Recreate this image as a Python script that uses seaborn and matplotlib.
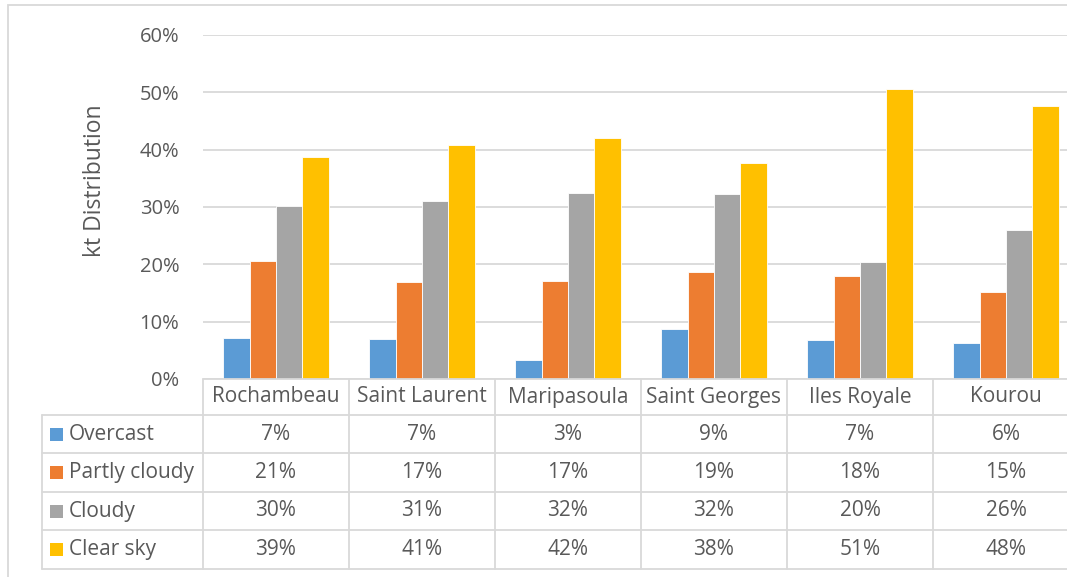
import pandas as pd
import matplotlib
matplotlib.use('Agg')
import matplotlib.pyplot as plt
import matplotlib.transforms as mtransforms
from matplotlib.patches import Rectangle
from matplotlib.ticker import PercentFormatter
import seaborn as sns

STATIONS      = ['Rochambeau', 'Saint Laurent', 'Maripasoula', 'Saint Georges', 'Iles Royale', 'Kourou']
SKY_TYPES     = ['Overcast', 'Partly cloudy', 'Cloudy', 'Clear sky']
OVERCAST      = [7.1, 6.9, 3.4, 8.7, 6.8, 6.3]
PARTLY_CLOUDY = [20.6, 17.0, 17.1, 18.7, 17.9, 15.2]
CLOUDY        = [30.2, 31.0, 32.4, 32.3, 20.4, 26.0]
CLEAR_SKY     = [38.7, 40.9, 42.1, 37.7, 50.6, 47.6]
COLORS        = ['#5B9BD5', '#ED7D31', '#A5A5A5', '#FFC000']
Y_TICKS       = [0, 10, 20, 30, 40, 50, 60]

TEXT_C = '#595959'
GRID_C = '#d9d9d9'
W, H = 1067, 577


def fx(px):
    return px / W


def fy(py):
    return 1 - py / H


series = [OVERCAST, PARTLY_CLOUDY, CLOUDY, CLEAR_SKY]
records = []
for sky, vals in zip(SKY_TYPES, series):
    for st, v in zip(STATIONS, vals):
        records.append({'station': st, 'sky': sky, 'value': v})
df = pd.DataFrame(records)

sns.set_style('white')
plt.rcParams['font.family'] = ['Open Sans', 'DejaVu Sans']

fig = plt.figure(figsize=(W / 100, H / 100), dpi=100)
ax = fig.add_axes([fx(203), fy(379), 876 / W, 344 / H])

sns.barplot(data=df, x='station', y='value', hue='sky', order=STATIONS,
            hue_order=SKY_TYPES, palette=COLORS, saturation=1, width=0.726, gap=0,
            edgecolor='white', linewidth=0.6, legend=False, ax=ax, zorder=3)

ax.set_xlim(-0.5, len(STATIONS) - 0.5)
ax.set_ylim(0, 60)
ax.set_yticks(Y_TICKS)
ax.yaxis.set_major_formatter(PercentFormatter(100, decimals=0))
ax.set_xticks([])
ax.set_xlabel('')
ax.set_ylabel('')
ax.grid(axis='y', color=GRID_C, linewidth=1.3, zorder=0)
for s in ax.spines.values():
    s.set_visible(False)
ax.tick_params(axis='y', length=0, labelsize=14.5, labelcolor=TEXT_C, pad=17)

fig.text(fx(95), fy(181), 'kt Distribution', rotation=90, ha='center', va='center',
         fontsize=16.5, color=TEXT_C)

# data table under the axis
trans = mtransforms.blended_transform_factory(ax.transData, fig.transFigure)
row_edges = [379, 415, 453, 492, 530, 569]
right = len(STATIONS) - 0.5
line_kw = dict(color=GRID_C, linewidth=1.3, clip_on=False, zorder=4)

ax.plot([-0.5, right], [fy(379)] * 2, transform=trans, **line_kw)
for y in row_edges[1:]:
    fig.add_artist(plt.Line2D([fx(42), 1.05], [fy(y)] * 2, **line_kw))
fig.add_artist(plt.Line2D([fx(42)] * 2, [fy(415), fy(569)], **line_kw))
for i in range(len(STATIONS) + 1):
    ax.plot([i - 0.5] * 2, [fy(379), fy(569)], transform=trans, **line_kw)

for i, st in enumerate(STATIONS):
    fig.text(i, fy((379 + 415) / 2), st, transform=trans, ha='center', va='center',
             fontsize=15, color=TEXT_C)

for r, (sky, vals, col) in enumerate(zip(SKY_TYPES, series, COLORS)):
    yc = (row_edges[r + 1] + row_edges[r + 2]) / 2
    fig.add_artist(Rectangle((fx(50), fy(yc + 6.5)), 13 / W, 13 / H,
                             facecolor=col, edgecolor='none', transform=fig.transFigure))
    fig.text(fx(69), fy(yc), sky, ha='left', va='center', fontsize=15, color=TEXT_C)
    for i, v in enumerate(vals):
        fig.text(i, fy(yc), f'{v:.0f}%', transform=trans, ha='center', va='center',
                 fontsize=15, color=TEXT_C)

# chart frame
fig.add_artist(Rectangle((fx(8), fy(600)), 1.2, 595 / H,
                         facecolor='none', edgecolor=GRID_C, linewidth=1.3,
                         transform=fig.transFigure))

fig.savefig('out.png', dpi=100)
